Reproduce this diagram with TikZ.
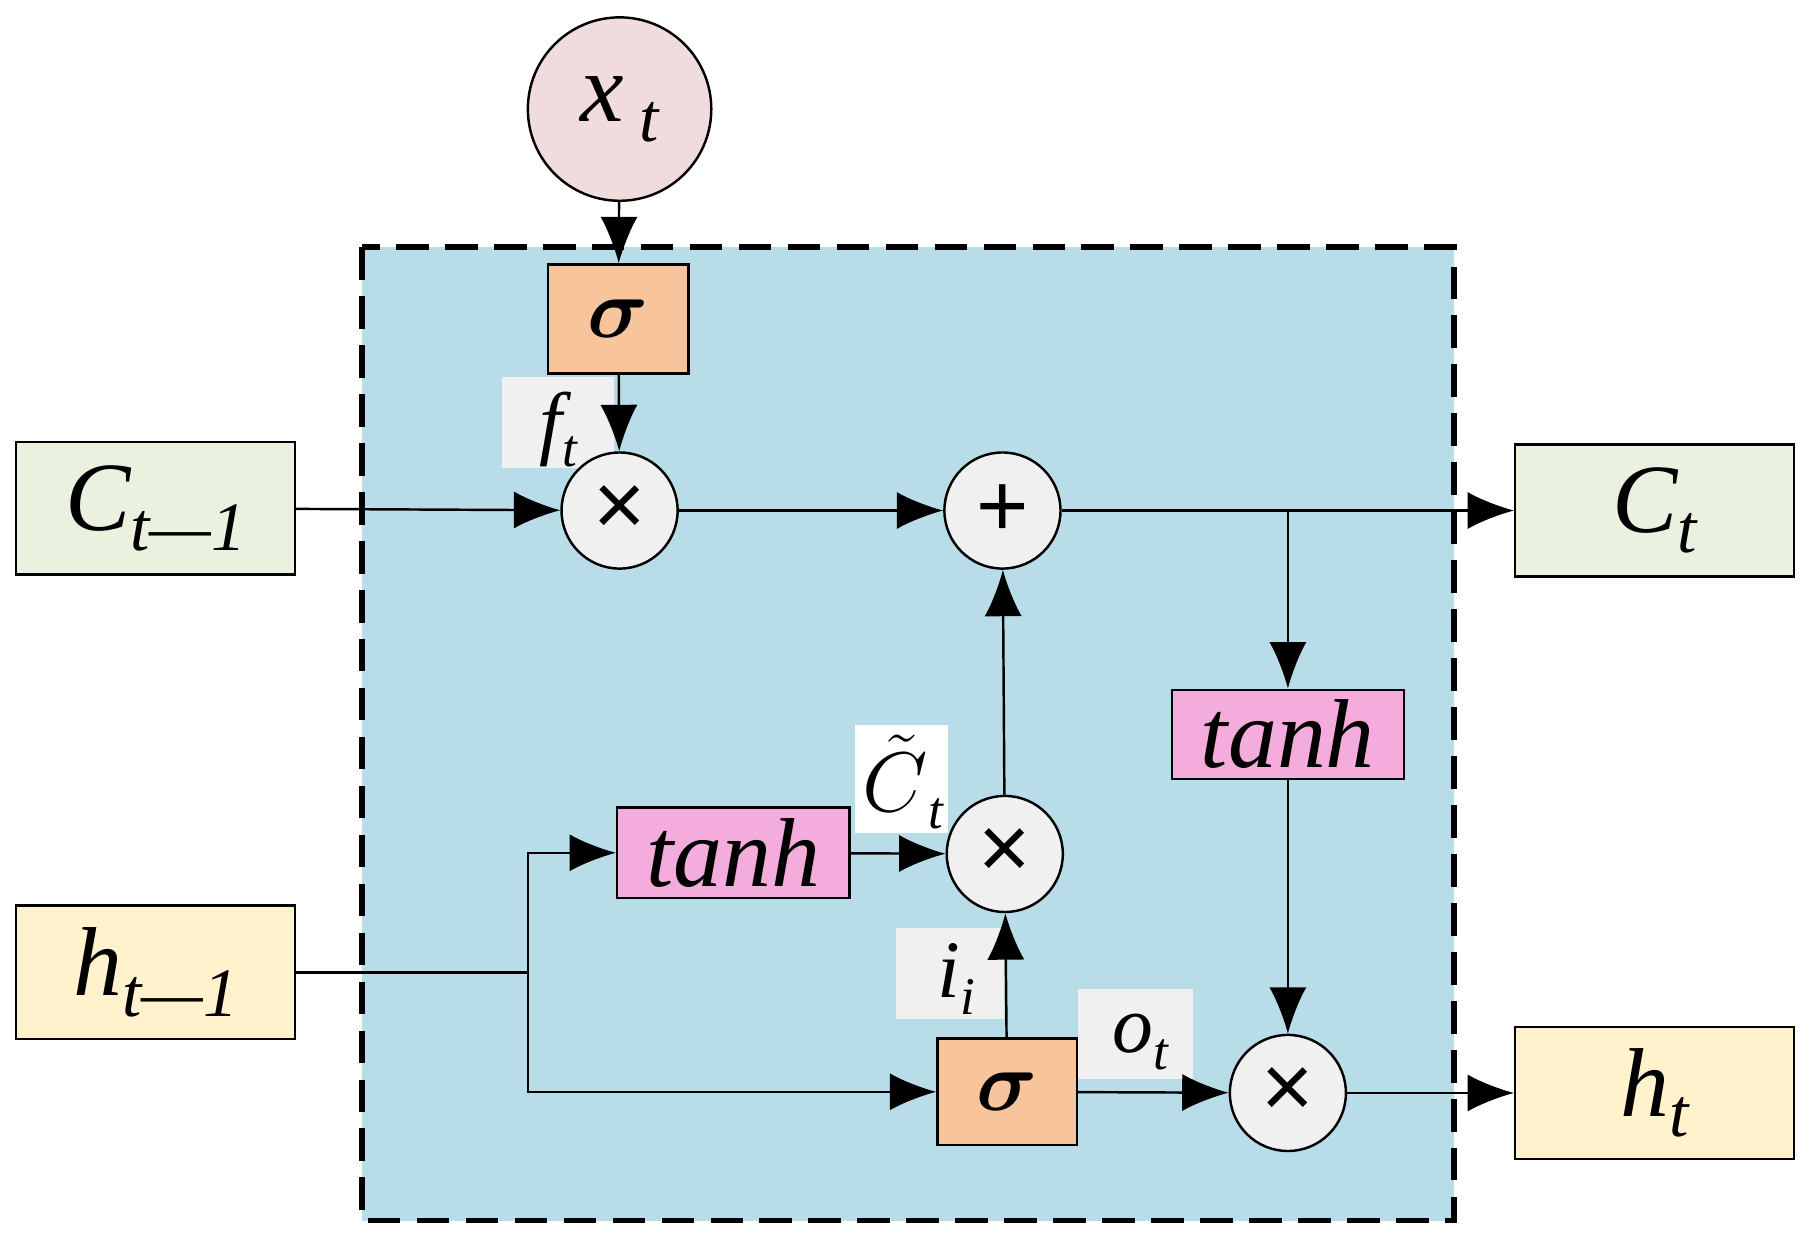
\documentclass[tikz,border=0pt]{standalone}
\usepackage{amsmath,bm}
\usepackage{fontspec}
\setmainfont{Liberation Serif}
\newfontfamily\sansf{Liberation Sans}
\usetikzlibrary{arrows.meta}
\newcommand{\lsub}[1]{\raisebox{-0.45ex}{\fontsize{13}{13}\selectfont\itshape #1}}
\newcommand{\bsub}[1]{\raisebox{-0.45ex}{\fontsize{17}{17}\selectfont #1}}
\begin{document}
\begin{tikzpicture}[x=0.01cm,y=-0.01cm,
  ln/.style={line width=0.6pt},
  ar/.style={ln,-{Latex[length=4mm,width=3.2mm]}},
  box/.style={draw,line width=0.6pt,inner sep=0pt},
  op/.style={circle,draw,fill=gray!12,minimum size=1cm,inner sep=0pt,line width=0.6pt,font=\sansf\fontsize{22}{22}\selectfont},
  lbl/.style={fill=#1,inner sep=0pt},
  big/.style={font=\fontsize{24}{24}\selectfont\itshape}]
\useasboundingbox (0,0) rectangle (1560,1075);
\fill[white] (0,0) rectangle (1560,1075);
\draw[fill={rgb,255:red,184;green,221;blue,232},line width=1.4pt,dash pattern=on 8pt off 4pt] (312,213) rectangle (1253,1052);
% label backgrounds
\node[lbl=gray!12,minimum width=0.97cm,minimum height=0.78cm] (lf) at (481,364) {};
\node[lbl=white,minimum width=0.8cm,minimum height=0.93cm] (lc) at (777,671) {};
\node[lbl=gray!12,minimum width=0.93cm,minimum height=0.78cm] (li) at (819,839) {};
\node[lbl=gray!12,minimum width=0.99cm,minimum height=0.77cm] (lo) at (979,891) {};
\node at (481,370) {\fontsize{20}{20}\selectfont\itshape f\lsub{t}};
\node at (778,674) {\fontsize{20}{20}\selectfont$\tilde{C}$\lsub{t}};
\node at (824,844) {\fontsize{20}{20}\selectfont\itshape i\lsub{i}};
\node at (983,898) {\fontsize{20}{20}\selectfont\itshape o\lsub{t}};
% nodes
\node[circle,draw,fill={rgb,255:red,240;green,220;blue,220},minimum size=1.58cm,line width=0.6pt,big] (x) at (534,94) {x\,\bsub{t}};
\node[box,fill={rgb,255:red,248;green,196;blue,156},minimum width=1.21cm,minimum height=0.94cm] (s1) at (533,275) {\fontsize{20}{20}\selectfont$\bm{\sigma}$};
\node[box,fill={rgb,255:red,248;green,196;blue,156},minimum width=1.2cm,minimum height=0.92cm] (s2) at (868,941) {\fontsize{20}{20}\selectfont$\bm{\sigma}$};
\node[op] (m1) at (534,440) {×};
\node[op] (p) at (864,440) {+};
\node[op] (m2) at (866,736) {×};
\node[op] (m3) at (1110,942) {×};
\node[box,fill={rgb,255:red,244;green,172;blue,220},minimum width=2cm,minimum height=0.78cm,big] (t1) at (632,735) {tanh};
\node[box,fill={rgb,255:red,244;green,172;blue,220},minimum width=2cm,minimum height=0.77cm,big] (t2) at (1110,633) {tanh};
\node[box,fill={rgb,255:red,234;green,241;blue,222},minimum width=2.4cm,minimum height=1.14cm,big] (c0) at (134,438) {C\bsub{t—1}};
\node[box,fill={rgb,255:red,234;green,241;blue,222},minimum width=2.4cm,minimum height=1.14cm,big] (c1) at (1426,440) {C\bsub{t}};
\node[box,fill={rgb,255:red,255;green,242;blue,204},minimum width=2.4cm,minimum height=1.15cm,big] (h0) at (134,838) {h\bsub{t—1}};
\node[box,fill={rgb,255:red,255;green,242;blue,204},minimum width=2.4cm,minimum height=1.14cm,big] (h1) at (1426,942) {h\bsub{t}};
\coordinate (j) at (455,838);
\coordinate (b) at (1110,440);
% connectors
\draw[ar] (x) -- (s1);
\draw[ar] (s1) -- (m1);
\draw[ar] (c0) -- (m1);
\draw[ar] (m1) -- (p);
\draw[ar] (p) -- (c1);
\draw[ar] (b) -- (t2);
\draw[ar] (t2) -- (m3);
\draw[ar] (m3) -- (h1);
\draw[ln] (h0) -- (j);
\draw[ar] (j) |- (t1);
\draw[ar] (j) |- (s2);
\draw[ar] (t1) -- (m2);
\draw[ar] (m2) -- (p);
\draw[ar] (s2) -- (m2);
\draw[ar] (s2) -- (m3);
\end{tikzpicture}
\end{document}
